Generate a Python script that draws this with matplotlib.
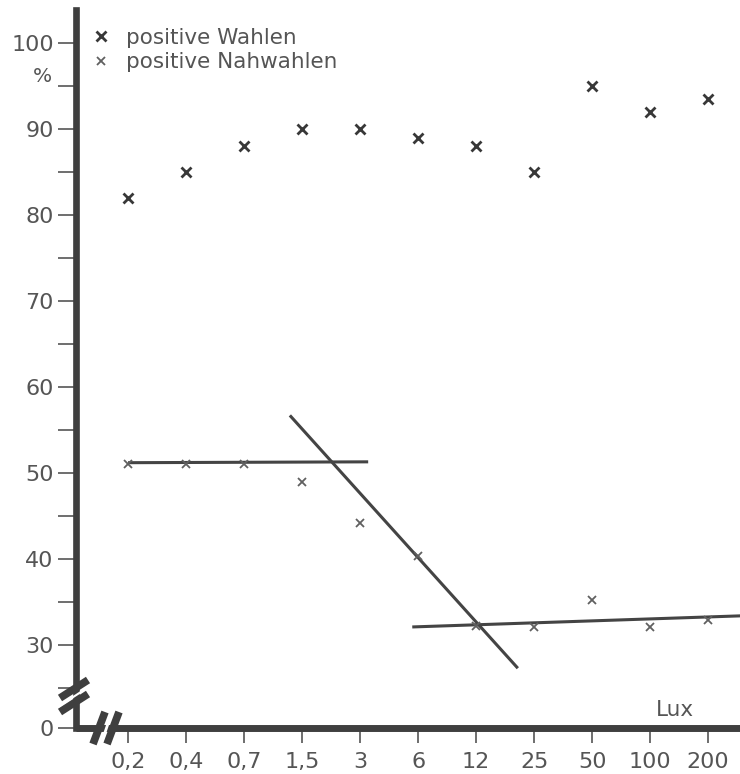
import matplotlib
matplotlib.use('Agg')
import matplotlib.pyplot as plt
import matplotlib.transforms as mtransforms

# ---------------- data ----------------
lux_labels = ['0,2', '0,4', '0,7', '1,5', '3', '6', '12', '25', '50', '100', '200']
positive_wahlen = [82, 85, 88, 90, 90, 89, 88, 85, 95, 92, 93.5]
positive_nahwahlen = [51, 51, 51, 49, 44.2, 40.3, 32.2, 32.1, 35.2, 32.1, 32.9]
# fitted lines (x in category index units, y in %)
fit1_x = [0.0, 4.14]
fit1_y = [51.2, 51.3]
fit2_x = [2.79, 6.72]
fit2_y = [56.7, 27.3]
fit3_x = [4.9, 10.6]
fit3_y = [32.1, 33.4]
y_major = [30, 40, 50, 60, 70, 80, 90, 100]
y_minor = [25, 35, 45, 55, 65, 75, 85, 95]
y_zero_pos = 20.35   # where the broken axis shows "0"

W, H = 740, 774
plt.rcParams['font.family'] = ['DejaVu Sans']
TXT = '#555555'
AX = '#3f3f3f'

fig = plt.figure(figsize=(W / 100, H / 100), dpi=100)
fig.patch.set_facecolor('white')
ax = fig.add_axes([76 / W, 46 / H, (W - 76) / W, (728 - 10) / H])

x = list(range(len(lux_labels)))
ax.plot(x, positive_wahlen, linestyle='none', marker='x', markersize=6.5,
        markeredgewidth=2.0, color='#383838', label='positive Wahlen', zorder=3)
ax.plot(x, positive_nahwahlen, linestyle='none', marker='x', markersize=6,
        markeredgewidth=1.3, color='#606060', label='positive Nahwahlen', zorder=3)
for fx, fy in [(fit1_x, fit1_y), (fit2_x, fit2_y), (fit3_x, fit3_y)]:
    ax.plot(fx, fy, color='#444444', linewidth=2.2, solid_capstyle='butt', zorder=2)

ax.set_xlim(-0.897, 10.55)
ax.set_ylim(y_zero_pos, 103.84)

for s in ['top', 'right']:
    ax.spines[s].set_visible(False)
ax.spines['left'].set_linewidth(4.8)
ax.spines['left'].set_color(AX)
ax.spines['bottom'].set_linewidth(5)
ax.spines['bottom'].set_color(AX)
ax.spines['bottom'].set_capstyle('butt')

ax.set_xticks(x)
ax.set_xticklabels(lux_labels)
ax.set_yticks([y_zero_pos] + y_major)
ax.set_yticklabels(['0'] + [str(v) for v in y_major])
ax.set_yticks(y_minor, minor=True)
ax.tick_params(axis='y', which='both', direction='out', length=13, width=1.2,
               color='#555555', pad=3, labelsize=16, labelcolor=TXT)
ax.tick_params(axis='x', direction='out', length=11, width=1.2,
               color='#555555', pad=6, labelsize=16, labelcolor=TXT)

# unit labels
fig.text(42 / W, 1 - 76 / H, '%', fontsize=14.5, color=TXT, ha='center', va='center')
fig.text(675 / W, 1 - 710 / H, 'Lux', fontsize=15.5, color=TXT, ha='center', va='center')

leg = ax.legend(loc='upper left', bbox_to_anchor=(96 / W, 1 - 28 / H),
                bbox_transform=fig.transFigure, frameon=False, fontsize=15.5,
                handlelength=0.5, handletextpad=0.9, labelspacing=0.2,
                borderaxespad=0, borderpad=0)
for t in leg.get_texts():
    t.set_color(TXT)

# axis-break marks (decoration) in pixel coordinates
px = mtransforms.Affine2D().scale(1 / W, -1 / H).translate(0, 1) + fig.transFigure
# y-axis break
for dy in (0, 14):
    fig.add_artist(plt.Line2D([60, 88], [712 - dy, 694 - dy], transform=px,
                              color=AX, linewidth=5.5, solid_capstyle='butt'))
fig.add_artist(plt.Line2D([58, 90], [707, 686], transform=px,
                          color='white', linewidth=1.5))
# x-axis break
for dx in (0, 14):
    fig.add_artist(plt.Line2D([93 + dx, 105 + dx], [744, 712], transform=px,
                              color=AX, linewidth=5.5, solid_capstyle='butt'))
fig.add_artist(plt.Line2D([101, 112], [744, 712], transform=px,
                           color='white', linewidth=2.0))

fig.savefig('out.png', dpi=100, facecolor='white')
